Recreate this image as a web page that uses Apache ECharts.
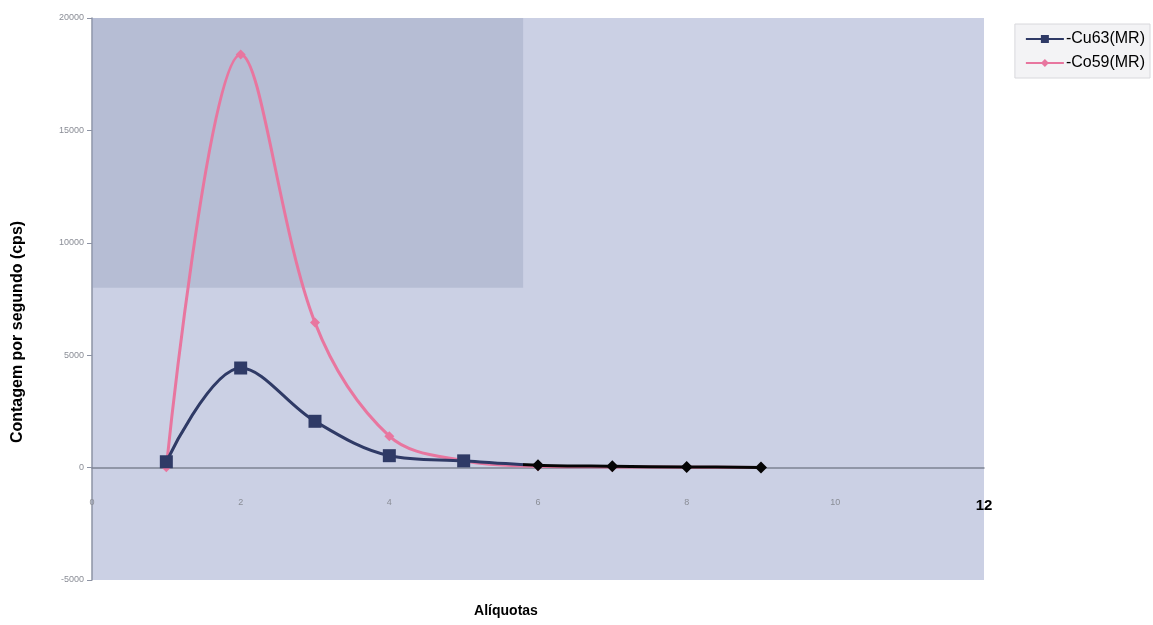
<!DOCTYPE html>
<html>
<head>
<meta charset="utf-8">
<script src="https://cdn.jsdelivr.net/npm/echarts@6/dist/echarts.min.js"></script>
<style>
  html, body { margin: 0; padding: 0; background: #ffffff; }
  #chart { width: 1153px; height: 625px; }
</style>
</head>
<body>
<div id="chart"></div>
<script>
// Aliquot number and counts per second for each isotope
const aliquotas = [1, 2, 3, 4, 5, 6, 7, 8, 9];
const cu63 = [260, 4430, 2060, 530, 300, 110, 60, 30, 10];
const co59 = [20, 18380, 6450, 1400, 300, 60, 30, 20, 10];
const seriesNames = ['Cu63(MR)', 'Co59(MR)'];
const yTicks = { min: -5000, max: 20000, step: 5000 };
const xTicks = { min: 0, max: 12, step: 2 };

const pairs = (ys) => aliquotas.map((x, i) => [x, ys[i]]);
// later aliquots of Cu63 are drawn with black diamond markers
const cu63Points = aliquotas.map((x, i) =>
  x >= 6 ? { value: [x, cu63[i]], symbol: 'diamond', symbolSize: 12 } : [x, cu63[i]]);

const chart = echarts.init(document.getElementById('chart'), null, { renderer: 'canvas' });

chart.setOption({
  backgroundColor: '#ffffff',
  animation: false,
  grid: {
    left: 92, right: 169, top: 18, bottom: 45,
    show: true,
    backgroundColor: '#cbd0e4',
    borderWidth: 0
  },
  legend: {
    right: 3, top: 24,
    orient: 'vertical',
    backgroundColor: '#f3f3f5',
    borderColor: '#d8d8dc',
    borderWidth: 1,
    padding: [7, 5, 7, 10],
    itemGap: 8,
    itemWidth: 38,
    itemHeight: 10,
    data: seriesNames,
    formatter: (name) => '-' + name,
    textStyle: { color: '#000', fontFamily: 'Liberation Sans, Arial, sans-serif', fontSize: 16, padding: [0, 0, 0, -3] }
  },
  visualMap: {
    show: false,
    type: 'piecewise',
    seriesIndex: 1,
    dimension: 0,
    pieces: [
      { gte: 0, lt: 5.8, color: '#2f3a66' },
      { gte: 5.8, lte: 12, color: '#050505' }
    ]
  },
  xAxis: {
    type: 'value',
    min: xTicks.min, max: xTicks.max, interval: xTicks.step,
    axisLine: { onZero: true, lineStyle: { color: '#7d8292', width: 1.5 } },
    axisTick: { show: false },
    splitLine: { show: false },
    axisLabel: {
      margin: -82,
      formatter: (v) => v === 12 ? '{big|12}' : '{s|' + v + '}',
      rich: {
        s: { color: '#8a8d96', fontSize: 9, fontFamily: 'Liberation Sans, Arial, sans-serif' },
        big: { color: '#000', fontSize: 15, fontWeight: 'bold', fontFamily: 'Liberation Sans, Arial, sans-serif' }
      }
    }
  },
  yAxis: {
    type: 'value',
    min: yTicks.min, max: yTicks.max, interval: yTicks.step,
    axisLine: { show: true, onZero: false, lineStyle: { color: '#8d93a4', width: 1.5 } },
    axisTick: { show: true, length: 5, lineStyle: { color: '#8d93a4' } },
    splitLine: { show: false },
    axisLabel: {
      color: '#8a8d96', fontSize: 9, margin: 8,
      fontFamily: 'Liberation Sans, Arial, sans-serif',
      formatter: (v) => String(v)
    }
  },
  graphic: [
    {
      type: 'text',
      x: 18, y: 332,
      rotation: Math.PI / 2,
      style: {
        text: 'Contagem por segundo (cps)',
        fill: '#000',
        font: 'bold 16px "Liberation Sans", Arial, sans-serif',
        textAlign: 'center',
        textVerticalAlign: 'middle'
      }
    },
    {
      type: 'text',
      x: 506, y: 611,
      style: {
        text: 'Alíquotas',
        fill: '#000',
        font: 'bold 14px "Liberation Sans", Arial, sans-serif',
        textAlign: 'center',
        textVerticalAlign: 'middle'
      }
    }
  ],
  series: [
    {
      name: seriesNames[1],
      type: 'line',
      data: pairs(co59),
      smooth: 0.35,
      z: 2,
      symbol: 'diamond',
      symbolSize: 10,
      lineStyle: { color: '#e8769f', width: 3 },
      itemStyle: { color: '#e8769f' },
      markArea: {
        silent: true,
        itemStyle: { color: 'rgba(150,160,188,0.4)' },
        data: [[{ coord: [0, 8000] }, { coord: [5.8, 20000] }]]
      }
    },
    {
      name: seriesNames[0],
      type: 'line',
      data: cu63Points,
      smooth: 0.35,
      z: 3,
      symbol: 'rect',
      symbolSize: 13,
      lineStyle: { width: 3 },
      itemStyle: { color: '#2f3a66' }
    }
  ]
});
</script>
</body>
</html>
